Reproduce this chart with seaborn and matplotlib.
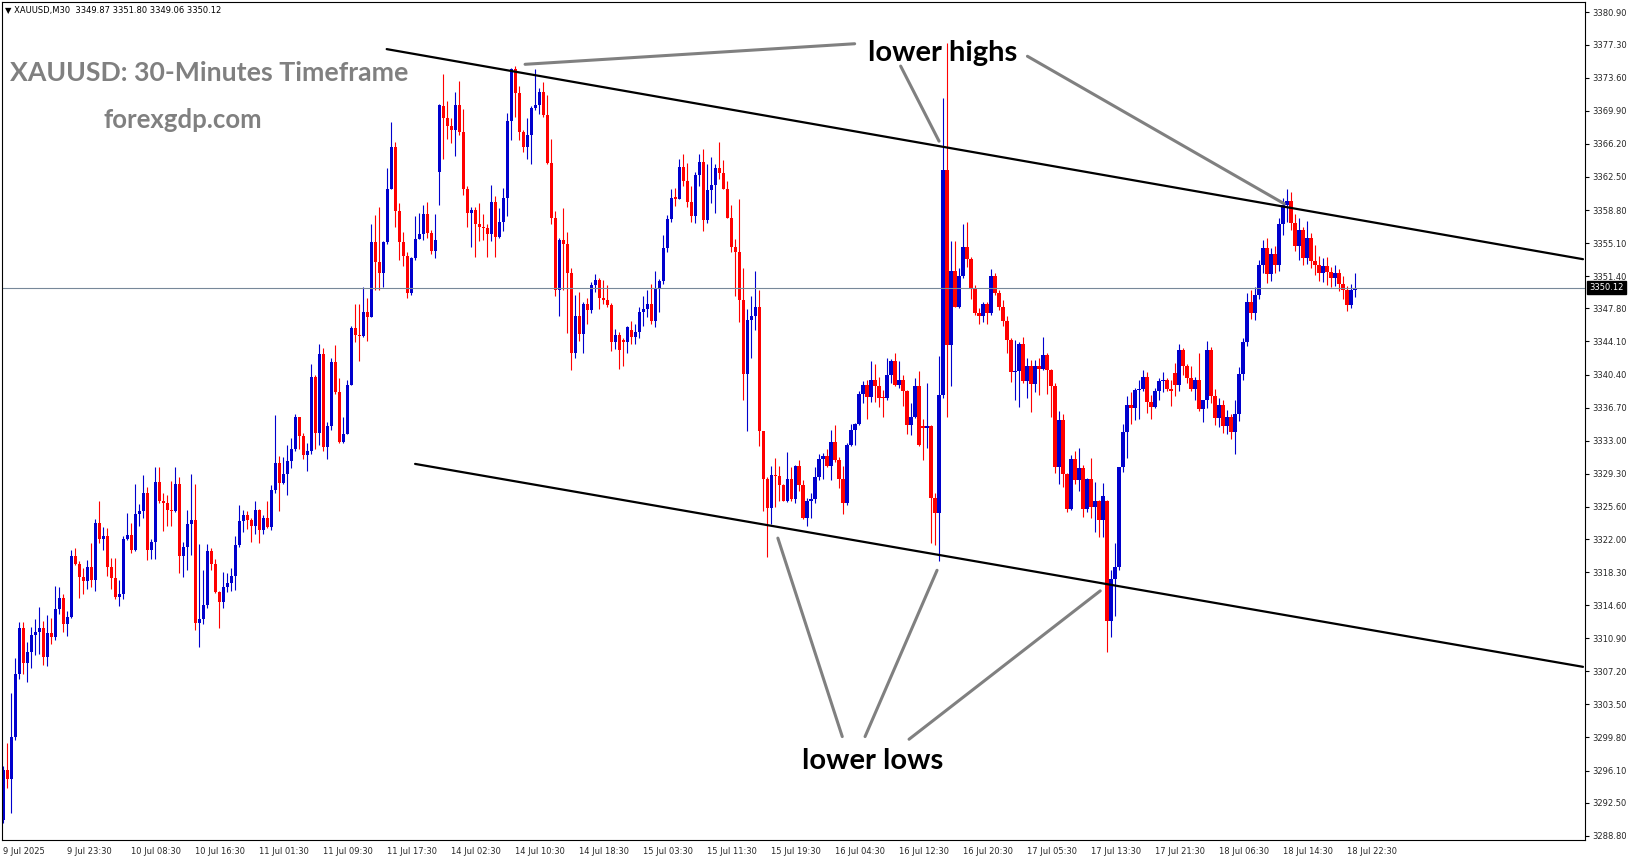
import numpy as np
import pandas as pd
import matplotlib
matplotlib.use("Agg")
import matplotlib.pyplot as plt
import seaborn as sns

# ---- XAUUSD M30 candles ----
opens = [
    3290.6, 3296.2, 3295.1, 3299.9, 3306.9, 3312.0, 3308.1, 3309.4, 3311.3, 3311.6,
    3312.1, 3308.8, 3311.5, 3311.0, 3314.2, 3315.4, 3312.5, 3313.3, 3320.1, 3319.2,
    3317.7, 3317.3, 3318.9, 3317.4, 3323.8, 3322.0, 3322.3, 3318.9, 3317.6, 3315.5,
    3315.8, 3322.0, 3322.5, 3320.8, 3324.8, 3325.1, 3327.1, 3320.8, 3321.7, 3328.4,
    3326.2, 3326.0, 3325.2, 3325.1, 3328.1, 3320.1, 3321.1, 3323.7, 3324.1, 3312.6,
    3313.1, 3314.6, 3320.7, 3319.2, 3316.1, 3314.9, 3316.6, 3317.1, 3317.9, 3321.3,
    3324.0, 3324.7, 3324.1, 3323.5, 3325.3, 3323.0, 3324.4, 3323.3, 3327.5, 3330.5,
    3328.3, 3329.3, 3330.7, 3332.1, 3335.7, 3333.5, 3331.4, 3331.8, 3340.1, 3333.9,
    3342.7, 3332.3, 3334.6, 3341.8, 3338.4, 3332.9, 3333.8, 3339.2, 3345.6, 3344.8,
    3344.7, 3347.4, 3346.8, 3355.2, 3353.0, 3351.7, 3355.2, 3361.2, 3365.8, 3358.7,
    3355.2, 3353.7, 3349.5, 3353.4, 3355.6, 3356.1, 3358.4, 3356.2, 3354.2, 3363.0,
    3370.4, 3369.1, 3368.2, 3367.7, 3370.6, 3367.5, 3361.1, 3358.5, 3358.8, 3357.2,
    3356.9, 3356.8, 3356.1, 3359.7, 3355.8, 3357.5, 3360.2, 3368.8, 3374.6, 3371.9,
    3367.5, 3365.8, 3367.2, 3370.2, 3370.6, 3372.0, 3369.4, 3364.1, 3357.9, 3349.9,
    3355.5, 3355.0, 3351.8, 3342.8, 3347.0, 3344.9, 3348.3, 3347.6, 3350.4, 3351.0,
    3349.0, 3348.7, 3348.2, 3344.0, 3344.8, 3344.3, 3344.0, 3345.4, 3344.6, 3345.2,
    3347.4, 3347.7, 3348.3, 3346.4, 3350.1, 3350.9, 3354.5, 3357.8, 3360.3, 3360.0,
    3363.6, 3362.0, 3359.7, 3358.1, 3362.7, 3364.2, 3357.7, 3361.0, 3361.6, 3363.5,
    3362.9, 3361.2, 3357.9, 3354.7, 3354.1, 3348.7, 3340.5, 3346.5, 3346.9, 3347.9,
    3334.1, 3328.7, 3325.5, 3329.2, 3329.0, 3328.0, 3326.3, 3328.7, 3326.5, 3330.2,
    3328.0, 3324.4, 3326.2, 3326.5, 3328.9, 3330.9, 3331.3, 3330.2, 3332.9, 3330.8,
    3328.7, 3326.0, 3332.5, 3334.2, 3334.9, 3338.2, 3339.2, 3337.9, 3339.8, 3339.1,
    3337.9, 3337.8, 3340.4, 3341.9, 3339.2, 3339.8, 3338.5, 3334.8, 3335.7, 3339.1,
    3334.6, 3334.4, 3334.6, 3326.6, 3324.9, 3338.1, 3363.3, 3343.7, 3352.0, 3348.0,
    3351.4, 3354.7, 3353.3, 3350.0, 3347.3, 3347.0, 3348.3, 3347.3, 3351.4, 3349.5,
    3347.9, 3346.4, 3344.3, 3340.7, 3340.8, 3343.8, 3339.7, 3341.3, 3339.3, 3341.3,
    3341.0, 3342.6, 3340.9, 3339.1, 3330.0, 3335.3, 3329.3, 3325.4, 3330.9, 3328.6,
    3329.9, 3325.4, 3328.7, 3325.6, 3326.2, 3324.1, 3326.2, 3312.8, 3317.5, 3318.9,
    3330.0, 3334.0, 3337.0, 3336.6, 3338.7, 3338.8, 3340.1, 3337.3, 3336.8, 3338.5,
    3339.7, 3339.8, 3338.8, 3340.6, 3339.2, 3343.1, 3341.3, 3340.0, 3338.8, 3339.8,
    3336.5, 3337.5, 3343.1, 3338.0, 3335.5, 3337.0, 3334.6, 3335.6, 3334.0, 3336.0,
    3340.5, 3344.0, 3348.5, 3347.3, 3349.3, 3352.6, 3354.5, 3351.6, 3353.9, 3352.6,
    3357.2, 3359.4, 3359.8, 3357.3, 3354.8, 3356.6, 3353.4, 3355.7, 3353.1, 3352.6,
    3351.8, 3352.5, 3351.9, 3351.2, 3351.7, 3350.5, 3349.8, 3348.2, 3349.87,
]
highs = [
    3296.6, 3299.2, 3304.8, 3308.7, 3312.7, 3312.7, 3310.5, 3312.2, 3313.1, 3314.4,
    3312.8, 3313.5, 3313.2, 3316.7, 3316.6, 3315.8, 3314.0, 3320.8, 3321.0, 3319.5,
    3318.8, 3319.6, 3321.6, 3324.2, 3326.2, 3323.3, 3323.2, 3319.9, 3319.9, 3317.4,
    3322.3, 3324.9, 3323.8, 3328.1, 3325.9, 3329.2, 3327.8, 3322.0, 3330.1, 3330.1,
    3327.1, 3326.9, 3328.5, 3330.0, 3328.9, 3321.7, 3325.3, 3329.3, 3328.1, 3321.4,
    3318.5, 3321.4, 3321.0, 3319.8, 3316.2, 3318.3, 3318.2, 3318.8, 3322.3, 3325.8,
    3325.3, 3325.1, 3324.4, 3326.2, 3325.4, 3324.7, 3326.2, 3328.0, 3335.9, 3331.3,
    3331.2, 3332.5, 3333.3, 3336.0, 3335.7, 3333.9, 3332.7, 3341.6, 3340.4, 3343.8,
    3343.4, 3335.1, 3342.2, 3343.7, 3340.0, 3335.6, 3339.8, 3345.8, 3348.3, 3348.3,
    3350.2, 3349.0, 3357.2, 3358.2, 3359.1, 3355.3, 3363.5, 3368.6, 3366.4, 3359.6,
    3356.3, 3354.1, 3353.5, 3358.1, 3358.5, 3359.4, 3359.7, 3356.6, 3358.4, 3370.7,
    3374.0, 3371.0, 3369.1, 3372.0, 3373.2, 3370.1, 3361.5, 3359.1, 3359.1, 3359.6,
    3358.4, 3357.2, 3361.6, 3360.4, 3359.0, 3361.3, 3369.6, 3374.7, 3374.9, 3372.7,
    3367.7, 3369.1, 3370.4, 3374.6, 3372.5, 3373.1, 3371.7, 3366.7, 3358.7, 3355.7,
    3359.0, 3356.3, 3352.3, 3349.3, 3349.6, 3348.5, 3349.0, 3350.8, 3351.6, 3351.2,
    3351.0, 3350.4, 3348.4, 3345.5, 3345.1, 3344.5, 3345.8, 3346.4, 3346.0, 3347.9,
    3349.2, 3349.9, 3350.5, 3352.0, 3351.1, 3356.0, 3358.2, 3361.2, 3361.3, 3364.5,
    3365.1, 3364.1, 3361.5, 3363.1, 3365.1, 3365.6, 3363.9, 3364.7, 3363.9, 3366.4,
    3364.4, 3362.1, 3359.4, 3355.6, 3360.0, 3352.3, 3347.7, 3349.2, 3352.0, 3349.8,
    3334.1, 3328.9, 3330.2, 3331.1, 3330.2, 3328.1, 3331.7, 3330.0, 3330.3, 3330.8,
    3328.6, 3326.6, 3327.1, 3330.0, 3331.5, 3331.6, 3332.1, 3334.2, 3334.8, 3331.2,
    3330.2, 3332.7, 3334.9, 3335.0, 3338.5, 3339.7, 3339.8, 3341.9, 3341.6, 3340.1,
    3338.7, 3342.3, 3342.1, 3342.8, 3341.9, 3340.4, 3338.7, 3337.2, 3340.0, 3340.8,
    3335.4, 3339.4, 3334.7, 3327.1, 3342.5, 3371.3, 3377.5, 3355.3, 3355.3, 3352.3,
    3357.2, 3357.5, 3353.5, 3350.4, 3347.8, 3348.5, 3348.5, 3352.2, 3351.7, 3349.9,
    3348.7, 3346.9, 3344.5, 3344.3, 3344.0, 3344.6, 3342.2, 3342.0, 3342.0, 3342.3,
    3344.6, 3342.8, 3341.0, 3339.5, 3336.3, 3336.0, 3329.4, 3331.4, 3331.9, 3332.2,
    3330.3, 3328.8, 3331.1, 3328.4, 3326.4, 3328.3, 3326.4, 3318.5, 3321.6, 3330.1,
    3334.9, 3338.0, 3338.4, 3338.9, 3339.8, 3340.9, 3340.7, 3338.1, 3338.9, 3340.0,
    3340.7, 3340.0, 3339.8, 3341.7, 3343.8, 3343.4, 3341.6, 3341.3, 3340.1, 3342.8,
    3337.6, 3344.1, 3343.5, 3338.8, 3337.8, 3337.5, 3336.4, 3336.0, 3337.5, 3341.2,
    3344.5, 3349.5, 3349.8, 3350.2, 3353.2, 3355.4, 3355.7, 3354.6, 3354.8, 3357.9,
    3360.2, 3361.1, 3360.8, 3358.4, 3357.9, 3356.9, 3357.6, 3356.2, 3354.9, 3353.7,
    3353.4, 3353.5, 3352.4, 3352.7, 3352.2, 3351.4, 3350.3, 3350.5, 3351.80,
]
lows = [
    3290.2, 3294.1, 3291.4, 3299.5, 3306.3, 3306.9, 3306.0, 3307.6, 3309.0, 3309.1,
    3307.9, 3307.8, 3310.3, 3310.7, 3313.6, 3311.6, 3311.2, 3313.2, 3319.1, 3315.4,
    3315.8, 3316.4, 3316.6, 3316.2, 3321.6, 3320.8, 3317.9, 3316.4, 3315.3, 3314.5,
    3315.3, 3321.9, 3320.4, 3320.7, 3323.5, 3324.4, 3319.7, 3319.8, 3319.8, 3326.0,
    3322.9, 3323.5, 3323.5, 3325.0, 3318.2, 3317.7, 3318.5, 3320.2, 3311.8, 3309.9,
    3312.5, 3314.3, 3318.5, 3316.0, 3312.1, 3314.3, 3316.1, 3316.2, 3316.3, 3321.1,
    3322.8, 3323.1, 3321.7, 3322.6, 3321.6, 3322.6, 3323.2, 3323.0, 3327.2, 3325.1,
    3328.1, 3326.9, 3329.9, 3331.8, 3332.1, 3330.9, 3329.6, 3331.5, 3332.1, 3332.5,
    3331.9, 3330.9, 3334.2, 3338.2, 3332.7, 3332.7, 3333.7, 3339.2, 3344.0, 3341.9,
    3344.6, 3344.1, 3346.8, 3349.9, 3349.9, 3350.2, 3355.0, 3361.1, 3356.9, 3353.2,
    3352.5, 3349.0, 3349.3, 3353.2, 3355.6, 3355.5, 3355.7, 3353.9, 3353.4, 3359.4,
    3364.5, 3366.7, 3366.3, 3364.8, 3367.2, 3360.5, 3356.9, 3354.7, 3353.6, 3355.3,
    3355.5, 3353.6, 3355.3, 3353.6, 3355.7, 3356.5, 3358.1, 3366.6, 3369.2, 3366.6,
    3365.3, 3364.5, 3363.9, 3370.0, 3369.5, 3369.2, 3363.9, 3357.2, 3349.2, 3347.0,
    3349.9, 3345.0, 3340.9, 3342.2, 3344.2, 3342.8, 3346.0, 3347.3, 3349.6, 3347.7,
    3348.3, 3347.9, 3343.0, 3343.2, 3341.0, 3341.3, 3342.8, 3343.8, 3343.8, 3344.5,
    3345.8, 3346.8, 3346.0, 3345.7, 3347.4, 3350.5, 3354.1, 3357.5, 3359.3, 3360.0,
    3361.5, 3359.1, 3357.5, 3357.4, 3361.5, 3356.5, 3357.4, 3359.6, 3358.5, 3362.3,
    3361.2, 3357.9, 3354.1, 3349.2, 3346.3, 3337.5, 3334.1, 3342.3, 3345.4, 3332.4,
    3325.1, 3320.0, 3323.7, 3325.6, 3326.2, 3326.2, 3326.1, 3326.2, 3326.0, 3327.4,
    3324.2, 3323.4, 3324.4, 3326.0, 3328.6, 3328.7, 3330.0, 3328.6, 3330.6, 3327.7,
    3324.8, 3325.8, 3332.4, 3332.5, 3334.8, 3337.2, 3335.4, 3337.3, 3337.3, 3336.8,
    3335.7, 3337.6, 3339.4, 3339.1, 3338.9, 3336.9, 3333.7, 3333.6, 3335.5, 3332.4,
    3330.8, 3332.2, 3321.6, 3321.3, 3319.5, 3337.8, 3335.7, 3339.1, 3347.9, 3347.8,
    3351.2, 3352.4, 3348.9, 3347.1, 3346.0, 3346.3, 3346.1, 3347.1, 3349.3, 3347.6,
    3345.8, 3342.8, 3339.6, 3337.5, 3336.8, 3339.5, 3337.8, 3336.2, 3338.4, 3338.1,
    3340.9, 3338.2, 3335.7, 3329.4, 3328.1, 3327.8, 3325.0, 3325.3, 3328.1, 3327.4,
    3324.5, 3325.0, 3324.4, 3322.8, 3322.2, 3322.2, 3309.4, 3311.0, 3313.4, 3318.5,
    3329.5, 3331.1, 3334.9, 3335.3, 3335.4, 3338.6, 3336.1, 3335.4, 3336.6, 3337.6,
    3338.4, 3338.5, 3336.9, 3338.0, 3338.5, 3340.4, 3339.5, 3338.5, 3337.6, 3336.3,
    3335.1, 3336.6, 3337.2, 3334.8, 3334.5, 3333.9, 3333.8, 3333.2, 3331.5, 3335.2,
    3339.8, 3343.6, 3346.6, 3346.5, 3348.8, 3351.8, 3350.6, 3350.9, 3351.8, 3352.0,
    3356.0, 3357.5, 3356.6, 3354.2, 3353.2, 3352.6, 3352.8, 3352.3, 3351.5, 3350.9,
    3350.8, 3350.4, 3350.2, 3350.3, 3349.7, 3348.9, 3347.5, 3347.8, 3349.06,
]
closes = [
    3296.2, 3295.1, 3299.9, 3306.9, 3312.0, 3308.1, 3309.4, 3311.3, 3311.6, 3312.1,
    3308.8, 3311.5, 3311.0, 3314.2, 3315.4, 3312.5, 3313.3, 3320.1, 3319.2, 3317.7,
    3317.3, 3318.9, 3317.4, 3323.8, 3322.0, 3322.3, 3318.9, 3317.6, 3315.5, 3315.8,
    3322.0, 3322.5, 3320.8, 3324.8, 3325.1, 3327.1, 3320.8, 3321.7, 3328.4, 3326.2,
    3326.0, 3325.2, 3325.1, 3328.1, 3320.1, 3321.1, 3323.7, 3324.1, 3312.6, 3313.1,
    3314.6, 3320.7, 3319.2, 3316.1, 3314.9, 3316.6, 3317.1, 3317.9, 3321.3, 3324.0,
    3324.7, 3324.1, 3323.5, 3325.3, 3323.0, 3324.4, 3323.3, 3327.5, 3330.5, 3328.3,
    3329.3, 3330.7, 3332.1, 3335.7, 3333.5, 3331.4, 3331.8, 3340.1, 3333.9, 3342.7,
    3332.3, 3334.6, 3341.8, 3338.4, 3332.9, 3333.8, 3339.2, 3345.6, 3344.8, 3344.7,
    3347.4, 3346.8, 3355.2, 3353.0, 3351.7, 3355.2, 3361.2, 3365.8, 3358.7, 3355.2,
    3353.7, 3349.5, 3353.4, 3355.6, 3356.1, 3358.4, 3356.2, 3354.2, 3355.4, 3370.6,
    3369.1, 3368.2, 3367.7, 3370.6, 3367.5, 3361.1, 3358.5, 3358.8, 3357.2, 3356.9,
    3356.8, 3356.1, 3359.7, 3355.8, 3357.5, 3360.2, 3368.8, 3374.6, 3371.9, 3367.5,
    3365.8, 3367.2, 3370.2, 3370.6, 3372.0, 3369.4, 3364.1, 3357.9, 3349.9, 3355.5,
    3355.0, 3351.8, 3342.8, 3347.0, 3344.9, 3348.3, 3347.6, 3350.4, 3351.0, 3349.0,
    3348.7, 3348.2, 3344.0, 3344.8, 3343.1, 3344.0, 3345.7, 3344.6, 3345.2, 3347.4,
    3347.7, 3348.3, 3346.4, 3350.1, 3350.9, 3354.5, 3357.8, 3360.2, 3360.0, 3363.6,
    3362.0, 3359.7, 3358.1, 3362.7, 3364.2, 3357.7, 3361.0, 3361.6, 3363.5, 3362.9,
    3361.2, 3357.9, 3354.7, 3354.1, 3348.7, 3340.5, 3346.5, 3346.9, 3347.9, 3334.1,
    3328.7, 3325.5, 3329.2, 3329.0, 3328.0, 3326.3, 3328.7, 3326.5, 3330.2, 3328.0,
    3324.4, 3326.2, 3326.5, 3328.9, 3330.9, 3331.3, 3330.2, 3332.9, 3330.8, 3328.7,
    3326.0, 3332.5, 3334.2, 3334.9, 3338.2, 3339.2, 3337.9, 3339.8, 3339.1, 3337.8,
    3337.8, 3340.4, 3341.9, 3339.2, 3339.8, 3338.5, 3334.8, 3335.7, 3339.1, 3332.5,
    3334.4, 3334.6, 3326.6, 3324.9, 3338.1, 3363.3, 3343.7, 3352.0, 3348.0, 3351.4,
    3354.7, 3353.3, 3350.0, 3347.3, 3347.0, 3348.3, 3347.3, 3351.4, 3349.5, 3347.9,
    3346.4, 3344.3, 3340.7, 3340.8, 3343.8, 3339.7, 3341.3, 3339.3, 3341.3, 3341.0,
    3342.6, 3340.9, 3339.1, 3330.0, 3335.3, 3329.3, 3325.4, 3330.9, 3328.6, 3329.9,
    3325.4, 3328.7, 3325.6, 3326.2, 3324.1, 3326.8, 3312.8, 3317.5, 3318.9, 3330.0,
    3334.0, 3337.0, 3336.6, 3338.7, 3338.8, 3340.1, 3337.3, 3336.8, 3338.5, 3339.7,
    3339.8, 3338.8, 3338.6, 3339.2, 3343.1, 3341.3, 3340.0, 3338.8, 3339.8, 3336.5,
    3337.5, 3343.1, 3338.0, 3335.5, 3337.0, 3334.6, 3335.6, 3334.0, 3336.0, 3340.5,
    3344.0, 3348.5, 3347.3, 3349.3, 3352.6, 3354.5, 3351.6, 3353.9, 3352.6, 3357.2,
    3359.4, 3359.8, 3357.3, 3354.8, 3356.6, 3353.4, 3355.7, 3353.1, 3352.6, 3351.8,
    3352.5, 3351.9, 3351.2, 3351.7, 3350.5, 3349.8, 3348.2, 3349.9, 3350.12,
]

time_labels = ["9 Jul 2025", "9 Jul 23:30", "10 Jul 08:30", "10 Jul 16:30", "11 Jul 01:30",
               "11 Jul 09:30", "11 Jul 17:30", "14 Jul 02:30", "14 Jul 10:30", "14 Jul 18:30",
               "15 Jul 03:30", "15 Jul 11:30", "15 Jul 19:30", "16 Jul 04:30", "16 Jul 12:30",
               "16 Jul 20:30", "17 Jul 05:30", "17 Jul 13:30", "17 Jul 21:30", "18 Jul 06:30",
               "18 Jul 14:30", "18 Jul 22:30"]
price_ticks = [3380.90, 3377.30, 3373.60, 3369.90, 3366.20, 3362.50, 3358.80, 3355.10, 3351.40,
               3347.80, 3344.10, 3340.40, 3336.70, 3333.00, 3329.30, 3325.60, 3322.00, 3318.30,
               3314.60, 3310.90, 3307.20, 3303.50, 3299.80, 3296.10, 3292.50, 3288.80]
last_price = 3350.12

# channel lines (bar index, price)
upper_x = [95.9, 395.0]
upper_y = [3376.8, 3353.3]
lower_x = [103.0, 395.0]
lower_y = [3330.4, 3307.7]

# pointer lines for the annotations
high_ptr_x = [[130.5, 212.9], [224.4, 234.0], [256.1, 320.3]]
high_ptr_y = [[3375.1, 3377.4], [3374.9, 3366.5], [3376.0, 3359.5]]
low_ptr_x = [[193.7, 209.8], [233.5, 215.5], [274.3, 226.5]]
low_ptr_y = [[3322.1, 3299.9], [3318.5, 3299.9], [3316.2, 3299.6]]

BULL = "#0000CD"
BEAR = "#FF0000"
GREY = "#808080"

sns.set_style("white")
plt.rcParams["font.family"] = ["DejaVu Sans"]

df = pd.DataFrame({"o": opens, "h": highs, "l": lows, "c": closes})
df["i"] = np.arange(len(df))
df["up"] = df["c"] >= df["o"]
colors = np.where(df["up"], BULL, BEAR)

fig = plt.figure(figsize=(16.31, 8.61), dpi=100)
ax = fig.add_axes([2 / 1631, 1 - 840 / 861, 1583 / 1631, 838 / 861])

# wicks + bodies
ax.vlines(df["i"], df["l"], df["h"], colors=colors, linewidth=0.8)
body_lo = np.minimum(df["o"], df["c"])
body_h = np.maximum((df["c"] - df["o"]).abs(), 0.12)
ax.bar(df["i"], body_h, bottom=body_lo, width=0.78, color=colors, linewidth=0)

# last price line
ax.axhline(last_price, color="#778899", linewidth=0.8)

# channel
sns.lineplot(x=upper_x, y=upper_y, color="black", linewidth=1.6, ax=ax)
sns.lineplot(x=lower_x, y=lower_y, color="black", linewidth=1.6, ax=ax)

for xs, ys in zip(high_ptr_x + low_ptr_x, high_ptr_y + low_ptr_y):
    sns.lineplot(x=xs, y=ys, color=GREY, linewidth=2.2, ax=ax)

ax.text(234.8, 3376.4, "lower highs", ha="center", va="center", fontsize=21,
        fontweight="bold", family="Lato", color="black")
ax.text(217.4, 3297.2, "lower lows", ha="center", va="center", fontsize=21,
        fontweight="bold", family="Lato", color="black")

ax.set_xlim(-0.28, 395.5)
ax.set_ylim(3288.33, 3382.07)

ax.set_xticks(np.arange(0, len(df), 16))
ax.set_xticklabels(time_labels, ha="left", fontsize=6)
ax.yaxis.tick_right()
ax.set_yticks(price_ticks)
ax.set_yticklabels([f"{p:.2f}" for p in price_ticks], fontsize=6)
ax.tick_params(axis="both", direction="out", length=3, width=0.8, color="black", pad=2)
for s in ax.spines.values():
    s.set_color("black")
    s.set_linewidth(0.8)
ax.set_xlabel("")
ax.set_ylabel("")

# price tag on the right axis
ax.annotate(f"{last_price:.2f}", xy=(1.0, last_price), xycoords=("axes fraction", "data"),
            xytext=(3, 0), textcoords="offset points", ha="left", va="center",
            fontsize=6, color="white",
            bbox=dict(boxstyle="square,pad=0.25", fc="black", ec="black"))

# header and watermark texts
fig.text(5 / 1631, 1 - 10 / 861, "\u25bc XAUUSD,M30  3349.87 3351.80 3349.06 3350.12",
         fontsize=6, va="center", ha="left", color="black")
fig.text(10 / 1631, 1 - 73 / 861, "XAUUSD: 30-Minutes Timeframe", fontsize=19.2,
         fontweight="bold", family="Lato", color=GREY, va="center", ha="left")
fig.text(183 / 1631, 1 - 120 / 861, "forexgdp.com", fontsize=18.5,
         fontweight="bold", family="Lato", color=GREY, va="center", ha="center")

fig.savefig("out.png", dpi=100)
